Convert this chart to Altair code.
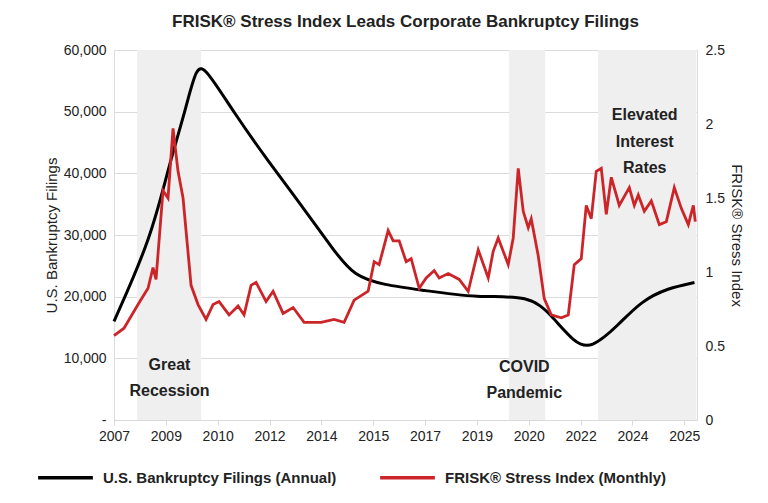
import altair as alt
import pandas as pd

# annual bankruptcy filings (left axis)
bk_year = [2007.0, 2008.17, 2008.71, 2009.27, 2009.6, 2009.9, 2010.79, 2011.86, 2012.91, 2013.95, 2014.58,
           2015.53, 2016.69, 2018.49, 2020.11, 2020.80, 2021.53, 2022.06, 2022.92, 2023.64, 2024.49, 2025.32]
bk_val = [16000, 29500, 40860, 50500, 57500, 57000, 49800, 42000, 34860, 27400, 23300,
          21890, 21080, 19780, 20270, 17030, 12500, 11500, 15400, 19300, 21400, 22300]

# monthly FRISK stress index (right axis), pixel x positions
fr_px = [113, 123, 137, 147, 152, 155, 162, 167, 172, 177, 182, 190, 197, 205, 212, 218, 228, 237, 243,
         250, 255, 265, 272, 282, 292, 303, 320, 333, 343, 353, 367, 373, 378, 387, 392, 398, 405, 410,
         418, 425, 433, 438, 447, 458, 467, 477, 487, 492, 497, 507, 512, 517, 522, 527, 530, 537, 543,
         550, 560, 567, 573, 580, 585, 590, 595, 600, 605, 610, 618, 628, 633, 637, 643, 650, 658, 665,
         673, 680, 687, 692, 694]
fr_val = [0.57, 0.62, 0.78, 0.89, 1.03, 0.95, 1.55, 1.50, 1.97, 1.68, 1.50, 0.91, 0.78, 0.68, 0.78, 0.80,
          0.71, 0.77, 0.71, 0.91, 0.93, 0.80, 0.87, 0.72, 0.76, 0.66, 0.66, 0.68, 0.66, 0.81, 0.87, 1.07,
          1.05, 1.28, 1.21, 1.21, 1.07, 1.09, 0.89, 0.96, 1.01, 0.96, 0.99, 0.95, 0.87, 1.15, 0.96, 1.14,
          1.23, 1.05, 1.23, 1.70, 1.41, 1.30, 1.36, 1.11, 0.82, 0.71, 0.69, 0.71, 1.05, 1.09, 1.45, 1.36,
          1.68, 1.70, 1.39, 1.64, 1.45, 1.57, 1.45, 1.52, 1.41, 1.48, 1.32, 1.34, 1.57, 1.43, 1.32, 1.45, 1.34]
fr_year = [round(2007 + (p - 113) * 18 / 570, 3) for p in fr_px]

tick_labels = ["2007", "2009", "2010", "2012", "2014", "2015", "2017", "2019", "2020", "2022", "2024", "2025"]
tick_vals = [2007 + k * 18 / 11 for k in range(len(tick_labels))]

band_start = [2007.73, 2019.47, 2022.28]
band_end = [2009.75, 2020.61, 2025.38]

notes = pd.DataFrame({
    "x": [2008.75, 2008.75, 2019.95, 2019.95, 2023.75, 2023.75, 2023.75],
    "y": [9000, 4700, 8600, 4300, 49400, 45100, 40800],
    "t": ["Great", "Recession", "COVID", "Pandemic", "Elevated", "Interest", "Rates"],
})

S1 = "U.S. Bankruptcy Filings (Annual)"
S2 = "FRISK® Stress Index (Monthly)"
FONT = "Liberation Sans"

xs = alt.Scale(domain=[2007, 2025.4], nice=False, zero=False)
lab_arr = "[" + ",".join("'%s'" % l for l in tick_labels) + "]"
xaxis = alt.Axis(values=tick_vals, labelExpr=lab_arr + "[round((datum.value-2007)*11/18)]",
                 title=None, grid=False, domainColor="#d9d9d9", tickColor="#d9d9d9",
                 labelFontSize=14, labelColor="#222", labelPadding=4, labelFlush=False)
color = alt.Scale(domain=[S1, S2], range=["#000000", "#cc2529"])
ys = alt.Scale(domain=[0, 60000])

left_axis = alt.Axis(values=[0, 10000, 20000, 30000, 40000, 50000, 60000],
                     labelExpr="datum.value == 0 ? '-' : format(datum.value, ',')",
                     title="U.S. Bankruptcy Filings", titleFontSize=15, titleFontWeight="normal",
                     labelFontSize=14, labelColor="#222", titleColor="#222", domain=False, ticks=False,
                     gridColor="#dcdcdc", labelPadding=8, orient="left")

bands = alt.Chart(pd.DataFrame({"a": band_start, "b": band_end})).mark_rect(color="#efefef").encode(
    x=alt.X("a:Q", scale=xs, axis=xaxis), x2="b:Q")

bk = alt.Chart(pd.DataFrame({"year": bk_year, "v": bk_val})).mark_line(
    strokeWidth=3, interpolate="basis").encode(
    x=alt.X("year:Q", scale=xs, axis=xaxis),
    y=alt.Y("v:Q", scale=ys, axis=left_axis),
    color=alt.Color("s:N", scale=color, legend=alt.Legend(
        orient="none", legendX=-78, legendY=398, direction="horizontal", title=None,
        symbolType="stroke", symbolStrokeWidth=3.5, symbolSize=3000,
        labelFontSize=15, labelFontWeight="bold", labelColor="#222", columnPadding=36,
        labelLimit=0, labelOffset=8))
).transform_calculate(s="'%s'" % S1)

txt = alt.Chart(notes).mark_text(fontSize=16, fontWeight="bold", font=FONT, color="#222").encode(
    x=alt.X("x:Q", scale=xs), y=alt.Y("y:Q", scale=ys, axis=left_axis), text="t:N")

right_axis = alt.Axis(values=[0, 0.5, 1, 1.5, 2, 2.5], labelExpr="format(datum.value, '')",
                      title="FRISK® Stress Index", titleAngle=90, titleFontSize=15, titleFontWeight="normal",
                      labelFontSize=14, labelColor="#222", titleColor="#222", domain=False, ticks=False,
                      grid=False, labelPadding=8, orient="right")
fr = alt.Chart(pd.DataFrame({"year": fr_year, "v": fr_val})).mark_line(strokeWidth=2.8).encode(
    x=alt.X("year:Q", scale=xs, axis=xaxis),
    y=alt.Y("v:Q", scale=alt.Scale(domain=[0, 2.5]), axis=right_axis),
    color=alt.Color("s:N", scale=color)
).transform_calculate(s="'%s'" % S2)

left = alt.layer(bands, txt, bk).resolve_scale(y="shared")
chart = alt.layer(left, fr).resolve_scale(y="independent").properties(
    width=583, height=370, padding={"left": 28, "right": 5, "top": 5, "bottom": 5},
    title=alt.Title("FRISK® Stress Index Leads Corporate Bankruptcy Filings", fontSize=17,
                    font=FONT, fontWeight="bold", color="#222", offset=12)
).configure_view(stroke=None).configure(font=FONT)

chart.save("out.html", embed_options={"renderer": "svg", "actions": False})
